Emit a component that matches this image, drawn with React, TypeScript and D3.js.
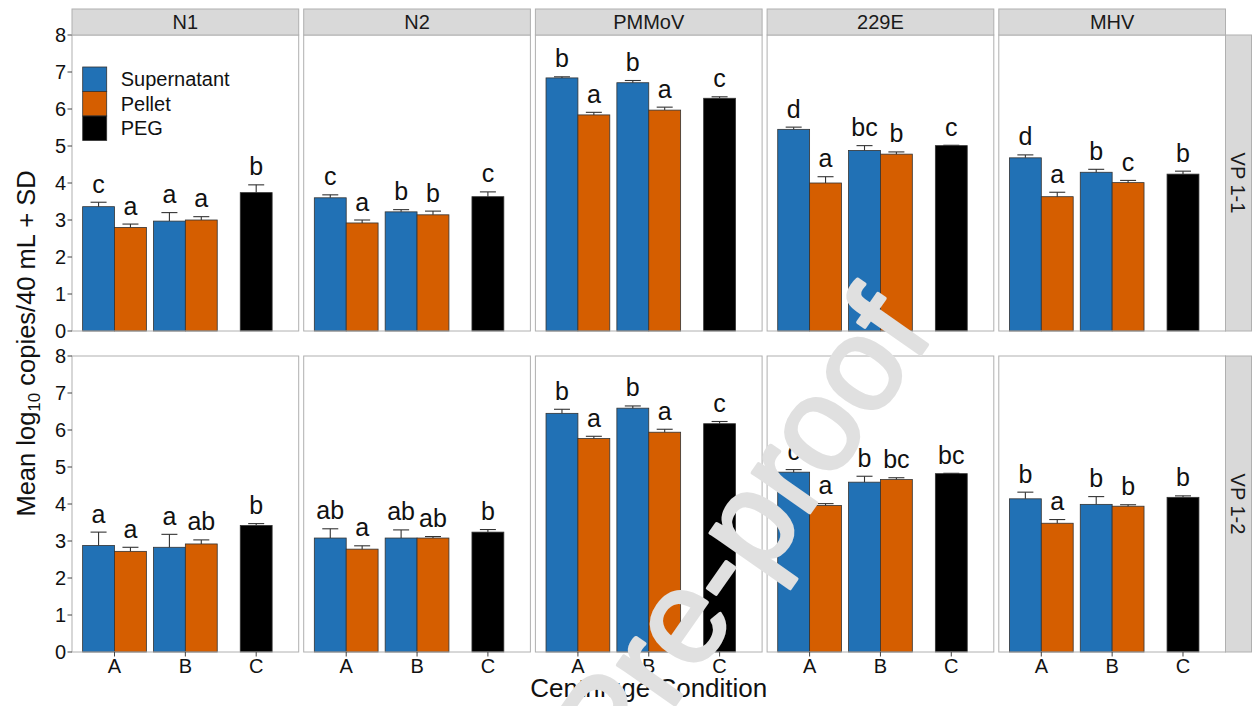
import React from 'react';
import * as d3 from 'd3';

// Facets
const viruses = ['N1', 'N2', 'PMMoV', '229E', 'MHV'];
const plants = ['VP 1-1', 'VP 1-2'];
const conditions = ['A', 'B', 'C'];
const fractions = ['Supernatant', 'Pellet', 'PEG'];
const fractionColors = ['#2171b5', '#d55e00', '#000000'];

// Bars inside each panel, in drawing order
const barFraction = ['Supernatant', 'Pellet', 'Supernatant', 'Pellet', 'PEG'];
const barCondition = ['A', 'A', 'B', 'B', 'C'];

// VP 1-1: mean log10 copies / 40 mL, one row per virus
const meanVP11 = [
  [3.36, 2.8, 2.97, 3.0, 3.74],
  [3.6, 2.92, 3.22, 3.14, 3.63],
  [6.84, 5.84, 6.71, 5.97, 6.29],
  [5.45, 4.0, 4.88, 4.78, 5.01],
  [4.68, 3.63, 4.29, 4.01, 4.24],
];
const sdVP11 = [
  [0.12, 0.09, 0.23, 0.09, 0.21],
  [0.08, 0.08, 0.06, 0.1, 0.13],
  [0.03, 0.07, 0.06, 0.08, 0.04],
  [0.06, 0.17, 0.13, 0.06, 0.01],
  [0.08, 0.12, 0.08, 0.06, 0.08],
];
const letterVP11 = [
  ['c', 'a', 'a', 'a', 'b'],
  ['c', 'a', 'b', 'b', 'c'],
  ['b', 'a', 'b', 'a', 'c'],
  ['d', 'a', 'bc', 'b', 'c'],
  ['d', 'a', 'b', 'c', 'b'],
];

// VP 1-2
const meanVP12 = [
  [2.88, 2.72, 2.83, 2.92, 3.42],
  [3.08, 2.78, 3.08, 3.08, 3.24],
  [6.45, 5.77, 6.59, 5.94, 6.17],
  [4.86, 3.96, 4.59, 4.66, 4.82],
  [4.14, 3.48, 3.99, 3.94, 4.18],
];
const sdVP12 = [
  [0.36, 0.11, 0.35, 0.11, 0.05],
  [0.25, 0.09, 0.22, 0.04, 0.07],
  [0.11, 0.06, 0.06, 0.08, 0.06],
  [0.07, 0.05, 0.16, 0.05, 0.01],
  [0.18, 0.1, 0.21, 0.04, 0.04],
];
const letterVP12 = [
  ['a', 'a', 'a', 'ab', 'b'],
  ['ab', 'a', 'ab', 'ab', 'b'],
  ['b', 'a', 'b', 'a', 'c'],
  ['c', 'a', 'b', 'bc', 'bc'],
  ['b', 'a', 'b', 'b', 'b'],
];

const yTicks = [0, 1, 2, 3, 4, 5, 6, 7, 8];

const plantMeans = [meanVP11, meanVP12];
const plantSds = [sdVP11, sdVP12];
const plantLetters = [letterVP11, letterVP12];

const W = 1252;
const H = 706;
const FONT = "'Liberation Sans', Arial, Helvetica, sans-serif";

const panelLeft = 72;
const panelW = 226.7;
const panelGap = 5;
const rowTops = [35, 356];
const panelH = 296;
const stripSize = 26;
const borderCol = '#b0b0b0';
const stripFill = '#d9d9d9';
const textCol = '#111111';

function Panel({ vi, pi }: { vi: number; pi: number }) {
  const x0 = panelLeft + vi * (panelW + panelGap);
  const top = rowTops[pi];
  const x = d3.scalePoint<string>().domain(conditions).range([x0, x0 + panelW]).padding(0.6);
  const step = x.step();
  const y = d3.scaleLinear().domain([0, 8]).range([top + panelH, top]);
  const means = plantMeans[pi][vi];
  const sds = plantSds[pi][vi];
  const letters = plantLetters[pi][vi];
  const bw = 0.45 * step;
  const color = d3.scaleOrdinal<string, string>().domain(fractions).range(fractionColors);

  const bars = means.map((m, i) => {
    const c = x(barCondition[i]) as number;
    const f = barFraction[i];
    let bx: number;
    if (f === 'PEG') bx = c - bw / 2;
    else if (f === 'Supernatant') bx = c - bw;
    else bx = c;
    return { m, sd: sds[i], letter: letters[i], bx, cx: bx + bw / 2, f };
  });

  return (
    <g>
      <rect x={x0} y={top} width={panelW} height={panelH} fill="#fff" />
      {bars.map((b, i) => (
        <rect key={'b' + i} x={b.bx} y={y(b.m)} width={bw} height={y(0) - y(b.m)}
          fill={color(b.f)} stroke="#333" strokeWidth={0.8} />
      ))}
      {bars.map((b, i) => (
        <g key={'e' + i} stroke="#333" strokeWidth={1.1}>
          <line x1={b.cx} x2={b.cx} y1={y(b.m)} y2={y(b.m + b.sd)} />
          <line x1={b.cx - 8} x2={b.cx + 8} y1={y(b.m + b.sd)} y2={y(b.m + b.sd)} />
        </g>
      ))}
      {bars.map((b, i) => (
        <text key={'l' + i} x={b.cx} y={y(b.m + b.sd) - 9.5} textAnchor="middle"
          fontSize={25} fill={textCol}>{b.letter}</text>
      ))}
      <rect x={x0} y={top} width={panelW} height={panelH} fill="none" stroke={borderCol} strokeWidth={1} />
      {/* y axis on first column */}
      {vi === 0 && yTicks.map((t) => (
        <g key={'yt' + t}>
          <line x1={x0 - 4.5} x2={x0} y1={y(t)} y2={y(t)} stroke="#444" strokeWidth={1} />
          <text x={x0 - 6} y={y(t)} dy="0.36em" textAnchor="end" fontSize={20} fill={textCol}>{t}</text>
        </g>
      ))}
      {/* x axis on bottom row */}
      {pi === 1 && conditions.map((c) => (
        <g key={'xt' + c}>
          <line x1={x(c)} x2={x(c)} y1={top + panelH} y2={top + panelH + 4.5} stroke="#444" strokeWidth={1} />
          <text x={x(c)} y={top + panelH + 21} textAnchor="middle" fontSize={20} fill={textCol}>{c}</text>
        </g>
      ))}
    </g>
  );
}

export default function App() {
  const lastRight = panelLeft + viruses.length * panelW + (viruses.length - 1) * panelGap;
  const keyX = 82.7;
  const keyY = 67;
  const keyH = 24.5;
  const keyW = 24;
  return (
    <svg width={W} height={H} viewBox={`0 0 ${W} ${H}`}
      style={{ position: 'absolute', left: 0, top: 0, background: '#fff' }}
      fontFamily={FONT}>
      <rect width={W} height={H} fill="#fff" />
      {plants.map((p, pi) => viruses.map((v, vi) => <Panel key={p + v} vi={vi} pi={pi} />))}

      {/* top strips */}
      {viruses.map((v, vi) => {
        const x0 = panelLeft + vi * (panelW + panelGap);
        return (
          <g key={'s' + v}>
            <rect x={x0} y={rowTops[0] - stripSize} width={panelW} height={stripSize}
              fill={stripFill} stroke={borderCol} strokeWidth={1} />
            <text x={x0 + panelW / 2} y={rowTops[0] - stripSize / 2} dy="0.36em" textAnchor="middle"
              fontSize={20} fill="#1a1a1a">{v}</text>
          </g>
        );
      })}

      {/* right strips */}
      {plants.map((p, pi) => {
        const cy = rowTops[pi] + panelH / 2;
        const cx = lastRight + stripSize / 2;
        return (
          <g key={'r' + p}>
            <rect x={lastRight} y={rowTops[pi]} width={stripSize} height={panelH}
              fill={stripFill} stroke={borderCol} strokeWidth={1} />
            <text transform={`translate(${cx},${cy}) rotate(90)`} dy="0.36em" textAnchor="middle"
              fontSize={20} fill="#1a1a1a">{p}</text>
          </g>
        );
      })}

      {/* legend */}
      {fractions.map((f, i) => (
        <g key={'lg' + f}>
          <rect x={keyX} y={keyY + i * keyH} width={keyW} height={keyH}
            fill={fractionColors[i]} stroke="#333" strokeWidth={0.8} />
          <text x={keyX + keyW + 14} y={keyY + i * keyH + keyH / 2} dy="0.36em" fontSize={20} fill={textCol}>{f}</text>
        </g>
      ))}

      {/* axis titles */}
      <text transform={`translate(35,${(rowTops[0] + rowTops[1] + panelH) / 2}) rotate(-90)`}
        textAnchor="middle" fontSize={25.5} fill={textCol}>
        <tspan>Mean log</tspan>
        <tspan fontSize={17} dy={5}>10</tspan>
        <tspan dy={-5}> copies/40 mL + SD</tspan>
      </text>
      <text x={(panelLeft + lastRight) / 2} y={697} textAnchor="middle" fontSize={26} fill={textCol}>
        Centrifuge Condition
      </text>

      {/* watermark */}
      <text transform="translate(350,1169) rotate(-55)" fontSize={132} fill="#e0e0e0"
        stroke="#e0e0e0" strokeWidth={3.5} strokeLinejoin="round">Journal Pre-proof</text>
    </svg>
  );
}
